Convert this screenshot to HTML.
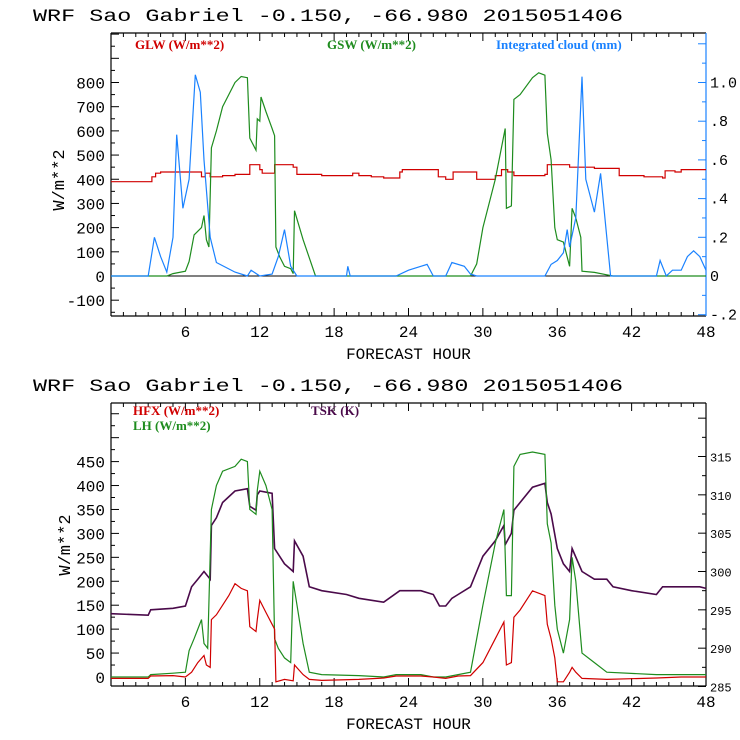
<!DOCTYPE html>
<html><head><meta charset="utf-8"><style>
html,body{margin:0;padding:0;background:#fff;}
svg{display:block;}
text{font-family:"Liberation Mono",monospace;}
</style></head><body>
<svg id="c" width="740" height="740" viewBox="0 0 740 740" xmlns="http://www.w3.org/2000/svg"></svg>
<script>
// ---- Top chart data (hour, value) ----
const glwHours=[0,3,3.3,3.6,4,7,7.3,7.6,8,9,10,11,11.2,12,12.2,13.2,14.7,15,17,19,19.5,20,21,22,23,23.3,23.5,26,26.4,27,27.6,28,29.5,31,31.5,32,32.5,35,35.2,37,39,40.8,41,43,44.5,44.7,45.5,46,47,48];
const glwVals=[390,390,410,425,430,430,410,425,410,415,420,420,460,440,425,460,450,420,415,415,425,415,410,405,405,430,440,440,410,400,430,430,400,415,440,430,415,420,460,450,445,445,415,410,405,435,430,440,440,440];
const gswHours=[0,4.5,5,6,6.3,6.7,7.3,7.5,7.7,7.9,8.1,8.5,9,9.5,10,10.5,11,11.2,11.7,11.8,12,12.1,12.5,13,13.2,13.3,13.6,14,14.5,14.7,14.8,15.5,16.5,29,29.5,30,31,31.8,31.9,32.3,32.5,33,34,34.5,35,35.2,35.5,35.8,36,36.5,37,37.2,37.5,37.9,38,39,40,40.5,48];
const gswVals=[0,0,10,20,60,170,200,250,150,120,530,600,700,750,800,825,820,570,520,650,640,740,680,610,580,120,80,40,30,10,270,150,0,0,50,200,400,610,280,290,730,750,820,840,830,590,480,200,150,140,40,280,240,160,20,15,5,0,0];
const cloudHours=[0,3,3.5,4,4.5,5,5.3,5.8,6.3,6.8,7.2,7.5,8,8.5,10,11,11.3,12,13,13.5,14,14.5,15,19,19.1,19.3,23,24,25,25.5,26,27,27.5,28.5,29,29.5,35,35.5,36,36.5,36.8,37,37.5,38,38.3,39,39.5,40,40.3,44,44.3,44.8,45.3,46,46.5,47,47.5,48];
const cloudVals=[0,0,0.2,0.1,0.02,0.2,0.73,0.35,0.5,1.04,0.95,0.6,0.2,0.07,0.02,0,0.03,0,0.01,0.1,0.24,0.05,0,0,0.05,0,0,0.03,0.05,0.06,0,0,0.07,0.05,0.01,0,0,0.06,0.08,0.12,0.24,0.15,0.3,1.03,0.5,0.33,0.53,0.2,0,0,0.08,0,0.03,0.03,0.1,0.13,0.1,0.03];
// ---- Bottom chart data ----
const tskHours=[0,3,3.2,5,6,6.5,7,7.5,8,8.1,8.5,9,10,11,11.2,11.7,11.8,12,13,13.2,14,14.7,14.8,15.5,16,17,19,20,22,23.3,25,26,26.5,27,27.5,28,29,29.5,30,31,31.7,31.8,32.3,32.5,33,34,35,35.2,35.5,36,36.5,37,37.2,38,39,40,40.5,42,44,44.5,47.5,48];
const tskVals=[294.5,294.3,295,295.2,295.5,298,299,300,299,306,307,309,310.5,310.8,308.5,308,310,310.5,310.2,303,301,300,304,302,298,297.5,297,296.5,296,297.5,297.5,297,295.5,295.5,296.5,297,298,300,302,304,306,303.5,305,308,309,311,311.5,309,307.5,303,301,300,303,300,299,299,298,297.5,297,298,298,297.8];
const hfxHours=[0,3,3.2,5,6,6.5,7,7.5,7.7,8,8.1,8.5,9,9.5,10,10.5,11,11.2,11.7,11.8,12,12.5,13,13.2,13.3,14,14.7,14.8,15.5,16,17,20,22,23,25,26,27,28,29,30,31,31.7,31.9,32.3,32.5,33,34,35,35.2,35.5,35.8,36,36.5,37,37.2,37.5,38,40,44,46,48];
const hfxVals=[-3,-3,2,3,0,10,30,45,25,20,120,130,150,170,195,185,180,105,95,120,160,135,110,100,-10,-5,-8,25,5,-5,-7,-5,-2,2,2,0,-3,2,3,30,80,115,25,30,125,140,180,170,110,80,40,-10,-10,10,20,10,-3,-5,-2,0,0];
const lhHours=[0,3,3.2,5,6,6.3,6.7,7.3,7.5,7.8,8.1,8.5,9,10,10.5,11,11.2,11.7,11.8,12,12.5,13,13.2,13.5,14,14.5,14.7,15.5,16,17,20,22,23,25,26,27,28,29,30,31,31.7,31.9,32.3,32.5,33,34,35,35.2,35.5,35.8,36,36.5,37,37.2,37.5,38,39,40,44,48];
const lhVals=[0,0,5,8,10,55,80,120,70,60,350,400,430,440,455,450,350,340,390,430,400,350,80,60,40,30,200,70,10,5,3,0,5,5,0,0,5,10,150,280,350,170,170,440,465,470,465,320,280,150,100,50,120,250,200,50,30,10,5,5];
const xTickLabels=["6","12","18","24","30","36","42","48"];
const topLeftTicks=["-100","0","100","200","300","400","500","600","700","800"];
const topRightTicks=["-.2","0",".2",".4",".6",".8","1.0"];
const botLeftTicks=["0","50","100","150","200","250","300","350","400","450"];
const botRightTicks=["285","290","295","300","305","310","315"];

const NS="http://www.w3.org/2000/svg";
const svg=document.getElementById('c');
function mk(tag,attrs,parent){const e=document.createElementNS(NS,tag);for(const k in attrs)e.setAttribute(k,attrs[k]);(parent||svg).appendChild(e);return e;}
const X0=111,X1=706;
function xs(h){return X0+(X1-X0)*h/48;}
function lin(d0,d1,p0,p1){return v=>p0+(v-d0)*(p1-p0)/(d1-d0);}

function drawSeries(g,hours,vals,ys,color,name,w,step){
  let d='';
  for(let i=0;i<hours.length;i++){
    const x=xs(hours[i]).toFixed(1), y=ys(vals[i]).toFixed(1);
    if(i===0){d+='M'+x+','+y;}
    else if(step){d+='L'+x+','+ys(vals[i-1]).toFixed(1)+'L'+x+','+y;}
    else{d+='L'+x+','+y;}
  }
  const p=mk('path',{d:d,fill:'none',stroke:color,'stroke-width':w||1.2},g);
  
  
}
function txt(s,x,y,attrs,parent){const t=mk('text',Object.assign({x:x,y:y},attrs||{}),parent);t.textContent=s;return t;}

function panel(cfg){
  const g=mk('g',{});
  
  
  const t=txt('WRF  Sao Gabriel   -0.150, -66.980  2015051406',33,cfg.top-12,{'font-size':'17.5','fill':'#000','textLength':'590','lengthAdjust':'spacingAndGlyphs','xml:space':'preserve'},g);
  
  
  const T=cfg.top,B=cfg.bottom;
  mk('line',{x1:X0,y1:T,x2:X1,y2:T,stroke:'#000','stroke-width':1.2},g);
  mk('line',{x1:X0,y1:B,x2:X1,y2:B,stroke:'#000','stroke-width':1.2},g);
  mk('line',{x1:X0,y1:T,x2:X0,y2:B,stroke:'#000','stroke-width':1.2},g);
  mk('line',{x1:X1,y1:T,x2:X1,y2:B,stroke:cfg.rightColor,'stroke-width':1.2},g);
  for(let h=1;h<48;h++){const L=(h%6==0)?8:4;
    mk('line',{x1:xs(h),y1:B,x2:xs(h),y2:B-L,stroke:'#000'},g);
    mk('line',{x1:xs(h),y1:T,x2:xs(h),y2:T+L,stroke:'#000'},g);}
  xTickLabels.forEach((s,i)=>{const l=txt(s,xs((i+1)*6),B+21,{'font-size':'16','text-anchor':'middle'},g);
    
    });
  const xl=txt('FORECAST HOUR',X0+(X1-X0)/2,B+43,{'font-size':'16','text-anchor':'middle'},g);
  
  
  for(let v=cfg.lMinorStart;v<=cfg.lMax;v+=cfg.lMinor){const y=cfg.ly(v);if(y<T||y>B)continue;
    const major=Math.abs((v/cfg.lMajor)-Math.round(v/cfg.lMajor))<1e-6;
    mk('line',{x1:X0,y1:y,x2:X0+(major?8:4),y2:y,stroke:'#000'},g);}
  cfg.lLabels.forEach(s=>{const l=txt(s,X0-6,cfg.ly(parseFloat(s))+6,{'font-size':'16','text-anchor':'end'},g);
    
    });
  const yl=txt('W/m**2',0,0,{'font-size':'17','text-anchor':'middle','transform':'translate('+cfg.ylx+','+cfg.yly+') rotate(-90)'},g);
  
  
  for(let v=cfg.rMinorStart;v<=cfg.rMax+1e-9;v+=cfg.rMinor){const y=cfg.ry(v);if(y<T-0.5||y>B+0.5)continue;
    const major=Math.abs((v/cfg.rMajor)-Math.round(v/cfg.rMajor))<1e-6;
    mk('line',{x1:X1,y1:y,x2:X1-(major?8:4),y2:y,stroke:cfg.rightColor},g);}
  cfg.rLabels.forEach(s=>{const l=txt(s,X1+4,cfg.ry(parseFloat(s))+5,{'font-size':cfg.rFont,'text-anchor':'start'},g);
    
    });
  return g;
}

const topLy=lin(0,800,276,82.5), topRy=lin(0,1,276,82.5);
const gTop=panel({name:'radiation-chart',top:33,bottom:316,rightColor:'#1a82ff',ly:topLy,ry:topRy,
  lMinorStart:-150,lMax:1000,lMinor:50,lMajor:100,lLabels:topLeftTicks,
  rMinorStart:-0.2,rMax:1.2,rMinor:0.1,rMajor:0.2,rLabels:topRightTicks,rFont:'15',ylx:64,yly:180});
mk('line',{x1:X0,y1:topLy(0),x2:X1,y2:topLy(0),stroke:'#000'},gTop);
drawSeries(gTop,glwHours,glwVals,topLy,'#d00000','glw-line',1.2,true);
drawSeries(gTop,gswHours,gswVals,topLy,'#1e8c1e','gsw-line');
drawSeries(gTop,cloudHours,cloudVals,topRy,'#1a82ff','cloud-line');
[['GLW (W/m**2)',135,'#d00000','legend-glw'],['GSW (W/m**2)',327,'#1e8c1e','legend-gsw'],['Integrated cloud (mm)',496,'#1a82ff','legend-cloud']].forEach(a=>{
  const l=txt(a[0],a[1],49,{'font-size':'13','font-weight':'bold','fill':a[2],'style':'font-family:"Liberation Serif",serif'},gTop);
  
  });

const botLy=lin(0,450,677,461.6), botRy=lin(285,315,686.5,456.5);
const gBot=panel({name:'surface-flux-chart',top:403,bottom:686,rightColor:'#000',ly:botLy,ry:botRy,
  lMinorStart:-25,lMax:600,lMinor:25,lMajor:50,lLabels:botLeftTicks,
  rMinorStart:285,rMax:320,rMinor:2.5,rMajor:5,rLabels:botRightTicks,rFont:'12',ylx:70,yly:545});
drawSeries(gBot,tskHours,tskVals,botRy,'#4a0a4a','tsk-line',1.6);
drawSeries(gBot,lhHours,lhVals,botLy,'#1e8c1e','lh-line');
drawSeries(gBot,hfxHours,hfxVals,botLy,'#d00000','hfx-line');
[['HFX (W/m**2)',133,415,'#d00000','legend-hfx'],['LH  (W/m**2)',133,430,'#1e8c1e','legend-lh'],['TSK (K)',311,415,'#4a0a4a','legend-tsk']].forEach(a=>{
  const l=txt(a[0],a[1],a[2],{'font-size':'13','font-weight':'bold','fill':a[3],'style':'font-family:"Liberation Serif",serif','xml:space':'preserve'},gBot);
  
  });
</script>
</body></html>
